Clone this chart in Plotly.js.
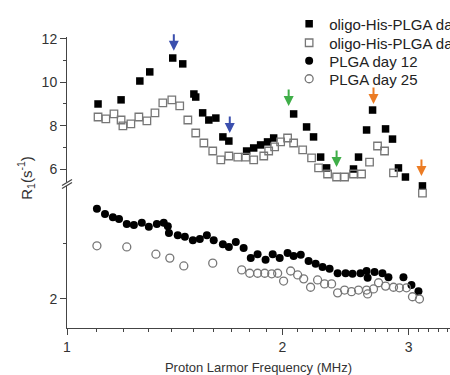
<!DOCTYPE html>
<html>
<head>
<meta charset="utf-8">
<script src="https://cdn.plot.ly/plotly-3.0.1.min.js"></script>
<style>html,body{margin:0;padding:0;background:#fff;}#chart{width:450px;height:375px;}</style>
</head>
<body>
<div id="chart"></div>
<script>
// oligo-His-PLGA day 12 (filled squares, upper panel)
const xSqFilled = [1.105,1.190,1.264,1.305,1.405,1.451,1.504,1.513,1.547,1.578,1.614,1.651,1.683,1.782,1.823,1.864,1.906,1.944,2.073,2.161,2.210,2.261,2.305,2.513,2.554,2.621,2.672,2.786,2.849,2.904,2.970,3.137];
const ySqFilled = [9.00,9.19,10.06,10.48,11.12,10.85,9.46,9.32,8.59,8.26,8.35,7.48,7.29,6.83,6.97,7.11,7.25,7.43,8.54,7.94,7.48,6.55,6.05,6.00,6.55,7.80,8.72,7.85,7.38,6.05,5.63,5.22];
// oligo-His-PLGA day 25 (open squares, upper panel)
const xSqOpen = [1.105,1.133,1.163,1.190,1.197,1.228,1.260,1.293,1.327,1.361,1.401,1.437,1.475,1.513,1.553,1.598,1.640,1.683,1.732,1.777,1.823,1.883,1.913,1.950,1.988,2.033,2.073,2.134,2.196,2.246,2.312,2.380,2.442,2.513,2.579,2.646,2.715,2.777,2.858,3.137];
const ySqOpen = [8.40,8.31,8.54,8.26,7.99,8.08,8.40,8.22,8.59,9.05,9.19,8.91,8.26,7.66,7.20,6.83,6.42,6.60,6.55,6.55,6.42,6.60,6.83,7.02,7.25,7.43,7.20,6.88,6.51,6.05,5.77,5.63,5.63,5.77,5.77,6.32,7.06,6.83,5.82,4.89];
// PLGA day 12 (filled circles, lower panel)
const xCircFilled = [1.101,1.130,1.159,1.182,1.212,1.240,1.272,1.301,1.335,1.365,1.383,1.388,1.428,1.461,1.499,1.533,1.568,1.603,1.651,1.683,1.721,1.765,1.806,1.846,1.894,1.938,1.982,2.033,2.073,2.121,2.175,2.225,2.275,2.327,2.388,2.450,2.505,2.570,2.621,2.630,2.689,2.758,2.812,2.951,3.028,3.097];
const yCircFilled = [3.61,3.52,3.46,3.43,3.34,3.32,3.36,3.29,3.34,3.36,3.30,3.18,3.14,3.11,3.05,3.07,3.14,3.05,2.98,2.93,3.02,2.91,2.73,2.80,2.70,2.80,2.73,2.82,2.77,2.79,2.68,2.63,2.57,2.54,2.46,2.46,2.45,2.46,2.50,2.38,2.48,2.46,2.39,2.39,2.25,2.14];
// PLGA day 25 (open circles, lower panel)
const xCircOpen = [1.101,1.212,1.331,1.392,1.456,1.598,1.754,1.800,1.846,1.889,1.932,1.969,2.007,2.053,2.100,2.141,2.189,2.239,2.290,2.342,2.388,2.442,2.497,2.554,2.621,2.630,2.680,2.724,2.786,2.858,2.913,2.980,3.038,3.107];
const yCircOpen = [2.95,2.93,2.80,2.73,2.59,2.64,2.52,2.46,2.46,2.46,2.45,2.46,2.32,2.50,2.43,2.36,2.21,2.34,2.27,2.27,2.11,2.16,2.13,2.16,2.16,2.09,2.18,2.29,2.23,2.21,2.20,2.20,2.04,2.00];

const seriesNames = ["oligo-His-PLGA day 12","oligo-His-PLGA day 25","PLGA day 12","PLGA day 25"];
const xTickVals = [1,2,3];
const xMinorVals = [1.1,1.2,1.3,1.4,1.5,1.6,1.7,1.8,1.9,2.1,2.2,2.3,2.4,2.5,2.6,2.7,2.8,2.9,3.1,3.2,3.3,3.4];
const yUpperTicks = [6,8,10,12];
const yUpperMinor = [7,9,11];
const yLowerTicks = [2];
const yLowerMinor = [3];

// arrows (tip positions) in the upper panel
const arrowX = [1.410,1.688,2.040,2.380,2.680,3.127];
const arrowY = [11.45,7.66,8.91,6.09,9.00,5.68];
const arrowColor = ["#3b4fae","#3b4fae","#3fae48","#3fae48","#ec7c24","#ec7c24"];

const FONT = 'Liberation Sans, Arial, sans-serif';
const legendIds = ['legend','legend2','legend3','legend4'];

const traces = [
  {x:xSqFilled, y:ySqFilled, name:seriesNames[0], type:'scatter', mode:'markers', xaxis:'x', yaxis:'y', cliponaxis:false, legend:legendIds[0],
   marker:{symbol:'square', size:7.5, color:'#000', line:{width:0}}},
  {x:xSqOpen, y:ySqOpen, name:seriesNames[1], type:'scatter', mode:'markers', xaxis:'x', yaxis:'y', cliponaxis:false, legend:legendIds[1],
   marker:{symbol:'square-open', size:7.5, color:'#777', line:{width:1.3}}},
  {x:xCircFilled, y:yCircFilled, name:seriesNames[2], type:'scatter', mode:'markers', xaxis:'x', yaxis:'y2', cliponaxis:false, legend:legendIds[2],
   marker:{symbol:'circle', size:8, color:'#000', line:{width:0}}},
  {x:xCircOpen, y:yCircOpen, name:seriesNames[3], type:'scatter', mode:'markers', xaxis:'x', yaxis:'y2', cliponaxis:false, legend:legendIds[3],
   marker:{symbol:'circle-open', size:8, color:'#777', line:{width:1.3}}}
];

const axisCommon = {showline:true, linecolor:'#444', linewidth:1, ticks:'outside', ticklen:6, tickcolor:'#444',
  showgrid:false, zeroline:false, tickfont:{family:FONT, size:14, color:'#333'}};

const annotations = arrowX.map((v,i)=>({x:Math.log10(v), y:arrowY[i], xref:'x', yref:'y', text:'', showarrow:true,
  arrowhead:2, arrowsize:1, arrowwidth:2, arrowcolor:arrowColor[i], ax:0, ay:-18, standoff:0}));
annotations.push({xref:'paper', yref:'paper', x:-0.108, y:0.515, xanchor:'center', yanchor:'middle',
  text:'R<sub>1</sub>(s<sup>-1</sup>)', showarrow:false,
  textangle:-90, font:{family:FONT, size:15, color:'#333'}});

const legendRowY = [1.0447, 0.9794, 0.9175, 0.8557];
const legendBase = {x:0.580, xanchor:'left', yanchor:'middle', bgcolor:'rgba(0,0,0,0)', borderwidth:0,
  font:{family:FONT, size:15, color:'#222'}};

const layout = {
  width:450, height:375,
  margin:{l:67, r:0, t:37, b:47, autoexpand:false},
  paper_bgcolor:'#fff', plot_bgcolor:'rgba(0,0,0,0)',
  showlegend:true,
  xaxis:Object.assign({}, axisCommon, {type:'log', range:[0, 0.535], anchor:'y2', automargin:false,
    tickmode:'array', tickvals:xTickVals, ticktext:xTickVals.map(String),
    minor:{tickmode:'array', tickvals:xMinorVals, ticks:'outside', ticklen:3, tickcolor:'#444', showgrid:false},
    title:{text:'Proton Larmor Frequency (MHz)', font:{family:FONT, size:13, color:'#333'}, standoff:10}}),
  yaxis:Object.assign({}, axisCommon, {domain:[0.4399,1], range:[4.57,12.09], anchor:'x', automargin:false,
    tickmode:'array', tickvals:yUpperTicks, ticktext:yUpperTicks.map(String),
    minor:{tickmode:'array', tickvals:yUpperMinor, ticks:'outside', ticklen:3, tickcolor:'#444', showgrid:false}}),
  yaxis2:Object.assign({}, axisCommon, {domain:[0,0.4914], range:[1.482,4.036], anchor:'x', automargin:false,
    tickmode:'array', tickvals:yLowerTicks, ticktext:yLowerTicks.map(String),
    minor:{tickmode:'array', tickvals:yLowerMinor, ticks:'outside', ticklen:3, tickcolor:'#444', showgrid:false}}),
  annotations:annotations,
  shapes:[
    {type:'rect', xref:'paper', yref:'paper', xsizemode:'pixel', ysizemode:'pixel', xanchor:0, yanchor:0.4948,
     x0:-3, x1:3, y0:-2, y1:2, fillcolor:'#fff', line:{width:0}, layer:'above'},
    {type:'line', xref:'paper', yref:'paper', xsizemode:'pixel', ysizemode:'pixel', xanchor:0, yanchor:0.4948,
     x0:-5, x1:5, y0:-4.5, y1:1.5, line:{color:'#444', width:1.2}, layer:'above'},
    {type:'line', xref:'paper', yref:'paper', xsizemode:'pixel', ysizemode:'pixel', xanchor:0, yanchor:0.4948,
     x0:-5, x1:5, y0:-1.5, y1:4.5, line:{color:'#444', width:1.2}, layer:'above'}
  ]
};
legendIds.forEach((id,i)=>{ layout[id] = Object.assign({}, legendBase, {y:legendRowY[i]}); });

Plotly.newPlot('chart', traces, layout, {displayModeBar:false, staticPlot:true});
</script>
</body>
</html>
